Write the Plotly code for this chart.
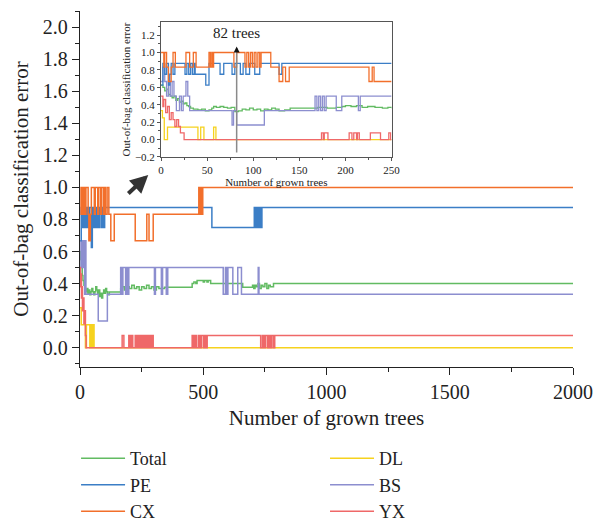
import plotly.graph_objects as go

# ---------------- main chart data (step change points: (trees, error)) ----------------
total_main = [(0, 0.60), (3, 0.55), (6, 0.50), (9, 0.45), (12, 0.42), (16, 0.39), (20, 0.36), (24, 0.35),
              (28, 0.37), (32, 0.34), (36, 0.36), (40, 0.33), (44, 0.35), (48, 0.37), (52, 0.35), (56, 0.33),
              (60, 0.35), (64, 0.38), (68, 0.36), (72, 0.34), (76, 0.36), (80, 0.32), (84, 0.34), (88, 0.31),
              (92, 0.34), (96, 0.36), (100, 0.34), (104, 0.37), (108, 0.35), (112, 0.33), (119, 0.347),
              (165, 0.37), (172, 0.38), (180, 0.36), (190, 0.38), (200, 0.37), (210, 0.39), (220, 0.37),
              (230, 0.38), (240, 0.36), (250, 0.38), (260, 0.37), (270, 0.39), (280, 0.37), (290, 0.38),
              (300, 0.36), (310, 0.38), (320, 0.37), (343, 0.378), (455, 0.40), (462, 0.41), (470, 0.40),
              (475, 0.42), (500, 0.41), (505, 0.42), (515, 0.41), (520, 0.42), (530, 0.40), (660, 0.378),
              (700, 0.39), (705, 0.37), (710, 0.39), (715, 0.38), (722, 0.40), (728, 0.37), (735, 0.39),
              (742, 0.38), (750, 0.40), (758, 0.37), (765, 0.39), (772, 0.38), (785, 0.40), (2000, 0.40)]
pe_main = [(1, 0.667), (5, 0.875), (9, 0.75), (12, 0.875), (16, 0.75), (19, 0.875), (24, 0.75), (28, 0.875),
           (34, 0.75), (38, 0.875), (46, 0.625), (50, 0.875), (56, 0.75), (60, 0.875), (66, 0.75), (70, 0.875),
           (76, 0.75), (79, 0.875), (86, 0.75), (90, 0.875), (96, 0.75), (100, 0.875), (535, 0.75),
           (707, 0.875), (710, 0.75), (714, 0.875), (718, 0.75), (722, 0.875), (726, 0.75), (730, 0.875),
           (734, 0.75), (738, 0.875), (2000, 0.875)]
cx_main = [(1, 0.833), (4, 1.0), (8, 0.833), (12, 1.0), (18, 0.833), (24, 1.0), (33, 0.833), (36, 0.667),
           (42, 0.833), (46, 1.0), (58, 0.833), (62, 1.0), (72, 0.833), (76, 1.0), (84, 0.833), (88, 1.0),
           (96, 0.833), (100, 1.0), (103, 0.833), (110, 1.0), (117, 0.833), (125, 0.667), (139, 0.833),
           (224, 0.667), (271, 0.833), (280, 0.667), (297, 0.833), (482, 1.0), (486, 0.833), (490, 1.0),
           (494, 0.833), (498, 1.0), (2000, 1.0)]
dl_main = [(0, 0.25), (5, 0.143), (22, 0.0), (26, 0.143), (40, 0.0), (45, 0.143), (50, 0.0), (53, 0.143),
           (57, 0.0), (2000, 0.0)]
bs_main = [(0, 0.667), (4, 0.5), (6, 0.667), (9, 0.5), (12, 0.667), (16, 0.5), (19, 0.333), (22, 0.667),
           (24, 0.333), (74, 0.167), (111, 0.333), (165, 0.5), (170, 0.333), (174, 0.5), (185, 0.333),
           (190, 0.5), (195, 0.333), (198, 0.5), (302, 0.333), (306, 0.5), (330, 0.333), (335, 0.5),
           (350, 0.333), (356, 0.5), (581, 0.333), (590, 0.5), (594, 0.333), (600, 0.5), (620, 0.333),
           (640, 0.5), (655, 0.333), (723, 0.5), (726, 0.333), (2000, 0.333)]
yx_main = [(0, 0.5), (2, 0.38), (4, 0.46), (6, 0.31), (8, 0.38), (10, 0.23), (13, 0.31), (16, 0.15),
           (19, 0.23), (22, 0.077), (25, 0.0), (171, 0.077), (178, 0.0), (198, 0.077), (203, 0.0),
           (208, 0.077), (214, 0.0), (224, 0.077), (230, 0.0), (236, 0.077), (242, 0.0), (248, 0.077),
           (254, 0.0), (260, 0.077), (266, 0.0), (272, 0.077), (278, 0.0), (284, 0.077), (290, 0.0),
           (294, 0.077), (297, 0.0), (455, 0.077), (461, 0.0), (466, 0.077), (472, 0.0), (480, 0.077),
           (486, 0.0), (492, 0.077), (500, 0.0), (506, 0.077), (512, 0.0), (516, 0.077), (733, 0.0),
           (740, 0.077), (746, 0.0), (752, 0.077), (760, 0.0), (766, 0.077), (772, 0.0), (778, 0.077),
           (785, 0.0), (790, 0.077), (2000, 0.077)]

# ---------------- inset data (first 250 trees) ----------------
total_in = [(0, 0.625), (2, 0.60), (4, 0.56), (6, 0.58), (8, 0.52), (10, 0.50), (12, 0.48), (14, 0.50),
            (16, 0.45), (18, 0.47), (20, 0.43), (22, 0.44), (24, 0.41), (26, 0.42), (28, 0.39), (30, 0.38),
            (32, 0.36), (35, 0.35), (40, 0.34), (44, 0.35), (48, 0.33), (52, 0.34), (55, 0.36), (57, 0.38),
            (60, 0.37), (64, 0.38), (68, 0.37), (72, 0.36), (76, 0.37), (80, 0.32), (84, 0.33), (88, 0.35),
            (92, 0.34), (96, 0.36), (100, 0.34), (104, 0.35), (108, 0.33), (112, 0.35), (116, 0.34),
            (120, 0.36), (124, 0.35), (128, 0.33), (134, 0.34), (140, 0.36), (170, 0.37), (180, 0.36),
            (190, 0.37), (196, 0.38), (200, 0.39), (206, 0.38), (212, 0.39), (218, 0.37), (224, 0.38),
            (232, 0.37), (240, 0.36), (246, 0.37), (250, 0.36)]
pe_in = [(0, 0.625), (2, 0.875), (4, 0.75), (6, 0.875), (8, 0.625), (9.5, 0.75), (11, 0.875), (13, 0.75),
         (15, 0.875), (26, 0.75), (28, 0.875), (30, 0.75), (32, 0.875), (34, 0.75), (36, 0.875), (37, 0.75),
         (48.5, 0.625), (52, 0.875), (64, 0.75), (68, 0.875), (77, 0.75), (80, 0.875), (86, 0.75),
         (89, 0.875), (92, 0.75), (96, 0.875), (101.6, 0.75), (107, 0.875), (128, 0.75), (131, 0.875),
         (250, 0.875)]
cx_in = [(0, 1.0), (3, 0.833), (4, 1.0), (6, 0.833), (8, 0.667), (11, 0.833), (13, 1.0), (15.5, 0.833),
         (27, 1.0), (31, 0.833), (35, 1.0), (38, 0.833), (52, 1.0), (53.5, 0.833), (55, 1.0), (56, 0.833),
         (57, 1.0), (79, 0.833), (82, 1.0), (91, 0.833), (93, 1.0), (95, 0.833), (97, 1.0), (99, 0.833),
         (101, 1.0), (103, 0.833), (105, 1.0), (107, 0.833), (108.5, 1.0), (119, 0.833), (128, 0.667),
         (132, 0.833), (135, 0.667), (139, 0.833), (225.5, 0.667), (229, 0.833), (231, 0.667), (250, 0.667)]
dl_in = [(0, 0.333), (1.5, 0.25), (3.5, 0.0), (7, 0.143), (40, 0.0), (43, 0.143), (46.5, 0.0), (57, 0.143),
         (59.5, 0.0), (250, 0.0)]
bs_in = [(0, 0.667), (2, 0.833), (4, 0.667), (6, 0.5), (8, 0.667), (10, 0.5), (12, 0.667), (14, 0.5),
         (16.6, 0.333), (20, 0.5), (22, 0.333), (24, 0.5), (27, 0.667), (29, 0.5), (31, 0.333), (77, 0.167),
         (78.6, 0.333), (82, 0.167), (112, 0.333), (167, 0.5), (169, 0.333), (171, 0.5), (173, 0.333),
         (175, 0.5), (177, 0.333), (179, 0.5), (190, 0.333), (196, 0.5), (214, 0.333), (216, 0.5), (250, 0.5)]
yx_in = [(0, 0.5), (2, 0.38), (3, 0.46), (5, 0.31), (7, 0.38), (9, 0.23), (11, 0.31), (13, 0.23), (15, 0.15),
         (17, 0.23), (19, 0.15), (21, 0.077), (25, 0.0), (174, 0.077), (176, 0.0), (177, 0.077), (181, 0.0),
         (204, 0.077), (207, 0.0), (209, 0.077), (212, 0.0), (213, 0.077), (215, 0.0), (227, 0.077),
         (238, 0.0), (247, 0.077), (249, 0.0), (250, 0.0)]

legend_left = ["Total", "PE", "CX"]
legend_right = ["DL", "BS", "YX"]
colors = {"Total": "#62bb62", "PE": "#3b7ec6", "CX": "#f26f2b", "DL": "#f6d21e", "BS": "#8c8ecf", "YX": "#ef6868"}
main_data = {"Total": total_main, "PE": pe_main, "CX": cx_main, "DL": dl_main, "BS": bs_main, "YX": yx_main}
inset_data = {"Total": total_in, "PE": pe_in, "CX": cx_in, "DL": dl_in, "BS": bs_in, "YX": yx_in}
draw_order = ["DL", "Total", "BS", "PE", "CX", "YX"]

marked_trees = 82
marked_label = "82 trees"

FONT = "Liberation Serif, Times New Roman, serif"

fig = go.Figure()
for nm in draw_order:
    pts = main_data[nm]
    if nm in legend_left:
        lg, rank = "legend", legend_left.index(nm) + 1
    else:
        lg, rank = "legend2", legend_right.index(nm) + 1
    fig.add_trace(go.Scatter(
        x=[p[0] for p in pts], y=[p[1] for p in pts], mode="lines", name=nm,
        line=dict(color=colors[nm], width=1.5, shape="hv"),
        legend=lg, legendrank=rank, hoverinfo="skip"))
for nm in draw_order:
    pts = inset_data[nm]
    fig.add_trace(go.Scatter(
        x=[p[0] for p in pts], y=[p[1] for p in pts], mode="lines", name=nm, showlegend=False,
        line=dict(color=colors[nm], width=1.3, shape="hv"), xaxis="x2", yaxis="y2", hoverinfo="skip"))

axis_common = dict(showgrid=False, zeroline=False, showline=True, ticks="outside")
legend_common = dict(orientation="v", xanchor="left", yref="container", y=0.16, yanchor="top",
                     font=dict(size=18, family=FONT, color="#222"), itemwidth=44,
                     traceorder="normal", bgcolor="rgba(0,0,0,0)")

fig.update_layout(
    width=604, height=524,
    margin=dict(l=80, r=21, t=11, b=157),
    paper_bgcolor="white", plot_bgcolor="white",
    font=dict(family=FONT, color="#222"),
    showlegend=True,
    legend=dict(**legend_common, x=-0.008),
    legend2=dict(**legend_common, x=0.497),
    xaxis=dict(**axis_common, range=[0, 2000], tickmode="linear", tick0=0, dtick=500, ticklen=7,
               linecolor="#222", tickcolor="#222",
               linewidth=1.3, tickwidth=1.3, tickfont=dict(size=20),
               minor=dict(dtick=250, ticklen=4, ticks="outside", tickcolor="#222", tickwidth=1.2),
               title=dict(text="Number of grown trees", font=dict(size=21), standoff=8)),
    yaxis=dict(**axis_common, range=[-0.12, 2.1], tickmode="linear", tick0=0, dtick=0.2, tickformat=".1f",
               linecolor="#222", tickcolor="#222",
               ticklen=7, linewidth=1.3, tickwidth=1.3, tickfont=dict(size=20),
               minor=dict(dtick=0.1, ticklen=4, ticks="outside", tickcolor="#222", tickwidth=1.2),
               title=dict(text="Out-of-bag classification error", font=dict(size=21), standoff=8)),
    xaxis2=dict(**axis_common, domain=[0.1644, 0.632], anchor="y2", range=[0, 250], tickmode="linear",
                tick0=0, dtick=50, ticklen=3, mirror=True, linewidth=1, tickwidth=1, linecolor="#555",
                tickcolor="#555", tickfont=dict(size=11),
                minor=dict(dtick=25, ticklen=2, ticks="outside", tickcolor="#555"),
                title=dict(text="Number of grown trees", font=dict(size=11), standoff=0)),
    yaxis2=dict(**axis_common, domain=[0.590, 0.969], anchor="x2", range=[-0.2, 1.35], tickmode="linear",
                tick0=0, dtick=0.2, tickformat=".1f", ticklen=3, mirror=True, linewidth=1, tickwidth=1,
                linecolor="#555", tickcolor="#555", tickfont=dict(size=11),
                minor=dict(dtick=0.1, ticklen=2, ticks="outside", tickcolor="#555"),
                title=dict(text="Out-of-bag classification error", font=dict(size=11), standoff=2)),
)

# vertical marker line at 82 trees in the inset
fig.add_shape(type="line", xref="x2", yref="y2", x0=marked_trees, x1=marked_trees, y0=-0.15, y1=1.0,
              line=dict(color="#8a8a8a", width=1.5))
fig.add_annotation(xref="x2", yref="y2", x=marked_trees, y=1.07, axref="x2", ayref="y2",
                   ax=marked_trees, ay=0.99, showarrow=True, arrowhead=2, arrowsize=1, arrowwidth=1.2,
                   arrowcolor="#111", text="")
fig.add_annotation(xref="x2", yref="y2", x=marked_trees, y=1.22, text=marked_label, showarrow=False,
                   font=dict(size=15, family=FONT, color="#222"))

# big pointer arrow from the main plot to the inset
fig.add_annotation(xref="x", yref="y", x=277, y=1.078, axref="x", ayref="y", ax=190, ay=0.953,
                   showarrow=True, arrowhead=2, arrowsize=0.9, arrowwidth=4, arrowcolor="#333", text="")

fig.write_html("out.html")
